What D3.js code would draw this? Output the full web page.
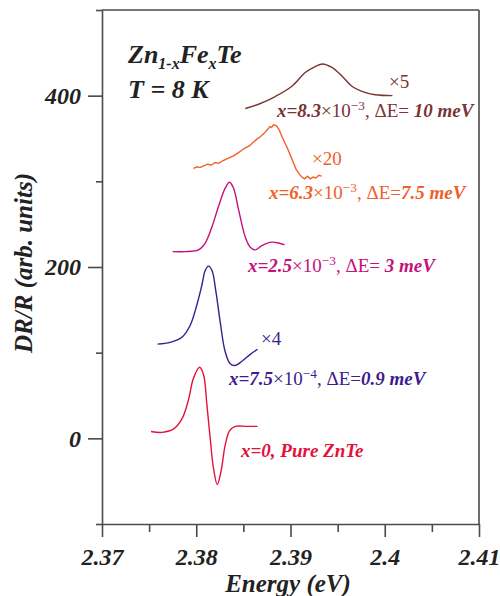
<!DOCTYPE html>
<html>
<head>
<meta charset="utf-8">
<script src="https://cdn.jsdelivr.net/npm/d3@7"></script>
<style>
  body { margin: 0; background: #fff; }
  svg text { font-family: "Liberation Serif", "Times New Roman", serif; }
</style>
</head>
<body>
<div id="main"></div>
<script>
// ---- data (energy in eV, DR/R in arb. units) ----
const eRed   = [2.3752, 2.3764, 2.3776, 2.3785, 2.3792, 2.3797, 2.38035, 2.38078, 2.38113, 2.38148, 2.38183, 2.38223, 2.38262, 2.38307, 2.38354, 2.38414, 2.38537, 2.3865];
const vRed   = [8, 7, 11, 23, 46, 70, 83, 74, 39, 0, -35, -54, -39, -8, 9, 14, 14, 14];

const eIndigo = [2.3759, 2.37724, 2.37848, 2.37936, 2.38007, 2.3806, 2.38095, 2.3813, 2.38167, 2.38209, 2.38254, 2.38307, 2.3836, 2.38413, 2.38485, 2.38573, 2.3865];
const vIndigo = [110, 112, 118, 132, 156, 179, 196, 201, 196, 171, 136, 101, 87, 85, 90, 98, 104];

const eMagenta = [2.37749, 2.37883, 2.38024, 2.38095, 2.38167, 2.38237, 2.38307, 2.38353, 2.38396, 2.38449, 2.3852, 2.38573, 2.38626, 2.38697, 2.38803, 2.38873, 2.38936];
const vMagenta = [218, 218, 220, 228, 247, 271, 292, 299, 292, 267, 235, 223, 220, 225, 229, 228, 226];

const eOrange = [2.3797, 2.3801, 2.3804, 2.3808, 2.3812, 2.3816, 2.3820, 2.3824, 2.3828, 2.3832, 2.3836, 2.3840, 2.3844, 2.3848, 2.3852, 2.3856, 2.3860, 2.3864, 2.3868, 2.3872, 2.3876, 2.3878, 2.3880, 2.3882, 2.3885, 2.3888, 2.3891, 2.3894, 2.3897, 2.3900, 2.3903, 2.3906, 2.3909, 2.3912, 2.3915, 2.3918, 2.3921, 2.3924, 2.3927, 2.3930, 2.3933];
const vOrange = [315, 317, 316, 318, 320, 319, 322, 321, 324, 326, 328, 330, 333, 336, 339, 341, 345, 349, 352, 356, 361, 364, 363, 366, 365, 360, 352, 345, 338, 330, 322, 314, 309, 305, 303, 306, 303, 305, 304, 307, 306];

const eBrown = [2.3852, 2.38661, 2.38838, 2.39015, 2.39156, 2.39262, 2.39339, 2.39439, 2.39545, 2.39651, 2.39757, 2.39898, 2.40082];
const vBrown = [385, 390, 399, 411, 427, 434, 437, 433, 423, 411, 405, 401, 400];

const xTicks = [2.37, 2.38, 2.39, 2.4, 2.41];
const xMinorTicks = [2.375, 2.385, 2.395, 2.405];
const yTicks = [0, 200, 400];
const yMinorTicks = [-100, 100, 300, 500];

const ctx = {
    margin: {top: 10, right: 21, bottom: 72, left: 102},
    width: 500,
    height: 596
};
const innerW = ctx.width - ctx.margin.left - ctx.margin.right;
const innerH = ctx.height - ctx.margin.top - ctx.margin.bottom;

const svg = d3.select("#main").append("svg")
    .attr("width", ctx.width)
    .attr("height", ctx.height);

const g = svg.append("g")
    .attr("transform", `translate(${ctx.margin.left},${ctx.margin.top})`);

const x = d3.scaleLinear().domain([2.37, 2.41]).range([0, innerW]);
const y = d3.scaleLinear().domain([-100, 500]).range([innerH, 0]);

const axisColor = "#4a4a4a";

// frame (top + right)
g.append("line").attr("x1", 0).attr("x2", innerW).attr("y1", 0).attr("y2", 0)
    .attr("stroke", axisColor).attr("stroke-width", 1.6);
g.append("line").attr("x1", innerW).attr("x2", innerW).attr("y1", 0).attr("y2", innerH)
    .attr("stroke", axisColor).attr("stroke-width", 1.6);

// x axis
const xAxis = g.append("g").attr("transform", `translate(0,${innerH})`)
    .call(d3.axisBottom(x).tickValues(xTicks).tickSize(13).tickSizeOuter(0)
        .tickFormat(d => d3.format("")(+d.toFixed(2))));
g.append("g").attr("transform", `translate(0,${innerH})`)
    .call(d3.axisBottom(x).tickValues(xMinorTicks).tickSize(8).tickFormat(""))
    .select(".domain").remove();

// y axis
const yAxis = g.append("g")
    .call(d3.axisLeft(y).tickValues(yTicks).tickSize(14).tickSizeOuter(0).tickPadding(7));
g.append("g")
    .call(d3.axisLeft(y).tickValues(yMinorTicks).tickSize(6).tickFormat(""))
    .select(".domain").remove();

g.selectAll(".domain, .tick line")
    .attr("stroke", axisColor).attr("stroke-width", 1.6);

xAxis.selectAll(".tick text")
    .attr("y", 41).attr("dy", 0)
    .style("font-size", "24px").style("font-weight", "bold").style("font-style", "italic")
    .attr("fill", "#222");
yAxis.selectAll(".tick text")
    .attr("dy", "0.33em")
    .style("font-size", "24px").style("font-weight", "bold").style("font-style", "italic")
    .attr("fill", "#222");

// axis titles
svg.append("text")
    .attr("transform", `translate(32,263) rotate(-90)`)
    .attr("text-anchor", "middle")
    .style("font-size", "25px").style("font-weight", "bold").style("font-style", "italic")
    .attr("fill", "#222")
    .text("DR/R (arb. units)");

svg.append("text")
    .attr("x", 288).attr("y", 592)
    .attr("text-anchor", "middle")
    .style("font-size", "25px").style("font-weight", "bold").style("font-style", "italic")
    .attr("fill", "#222")
    .text("Energy (eV)");

// curves
const series = [
    {e: eRed, v: vRed, color: "#e3123c", smooth: true},
    {e: eIndigo, v: vIndigo, color: "#3d1c8e", smooth: true},
    {e: eMagenta, v: vMagenta, color: "#c4127c", smooth: true},
    {e: eOrange, v: vOrange, color: "#f0602a", smooth: false},
    {e: eBrown, v: vBrown, color: "#7a3434", smooth: true}
];

series.forEach(s => {
    const pts = s.e.map((d, i) => [d, s.v[i]]);
    const line = d3.line()
        .x(d => x(d[0]))
        .y(d => y(d[1]))
        .curve(s.smooth ? d3.curveCatmullRom : d3.curveLinear);
    g.append("path")
        .datum(pts)
        .attr("fill", "none")
        .attr("stroke", s.color)
        .attr("stroke-width", 1.4)
        .attr("d", line);
});

// annotations: segments are [text, kind]  kind: b = bold italic, r = regular, s = superscript
function label(px, py, color, segs, size) {
    const t = svg.append("text").attr("x", px).attr("y", py)
        .attr("fill", color).style("font-size", size + "px");
    let shifted = false;
    segs.forEach(([txt, kind]) => {
        const ts = t.append("tspan").text(txt);
        if (kind === "b") ts.style("font-weight", "bold").style("font-style", "italic");
        if (kind === "s") {
            ts.style("font-size", (size * 0.7) + "px").attr("dy", -7);
            shifted = true;
        } else if (shifted) {
            ts.attr("dy", 7);
            shifted = false;
        }
    });
    return t;
}

label(128, 63, "#222", [], 26)
    .call(t => {
        t.style("font-weight", "bold").style("font-style", "italic");
        t.append("tspan").text("Zn");
        t.append("tspan").text("1-x").style("font-size", "16px").attr("dy", 6);
        t.append("tspan").text("Fe").attr("dy", -6);
        t.append("tspan").text("x").style("font-size", "16px").attr("dy", 6);
        t.append("tspan").text("Te").attr("dy", -6);
    });
label(128, 98, "#222", [["T = 8 K", "b"]], 26);

label(389, 88, "#7a3434", [["×5", "r"]], 19);
label(277, 117, "#7a3434", [["x=8.3", "b"], ["×10", "r"], ["−3", "s"], [", ΔE= ", "r"], ["10 meV", "b"]], 19);

label(312, 165, "#f0602a", [["×20", "r"]], 19);
label(269, 199, "#f0602a", [["x=6.3", "b"], ["×10", "r"], ["−3", "s"], [", ΔE=", "r"], ["7.5 meV", "b"]], 19);

label(248, 272, "#c4127c", [["x=2.5", "b"], ["×10", "r"], ["−3", "s"], [", ΔE= ", "r"], ["3 meV", "b"]], 19);

label(261, 345, "#3d1c8e", [["×4", "r"]], 19);
label(229, 385, "#3d1c8e", [["x=7.5", "b"], ["×10", "r"], ["−4", "s"], [", ΔE=", "r"], ["0.9 meV", "b"]], 19);

label(241, 457, "#e3123c", [["x=0, Pure ZnTe", "b"]], 19);
</script>
</body>
</html>
